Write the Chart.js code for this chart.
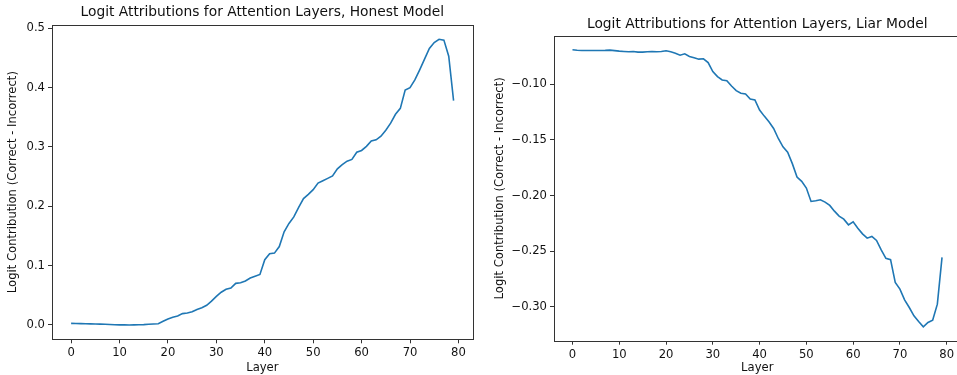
<!DOCTYPE html>
<html>
<head>
<meta charset="UTF-8" />
<title>Logit Attributions for Attention Layers</title>
<script src="https://cdn.jsdelivr.net/npm/chart.js"></script>
<style>
html, body { margin:0; padding:0; background:#fff; overflow:hidden; width:957px; height:375px; }
.box { position:absolute; top:0; height:375px; }
#leftBox { left:0; width:478px; }
#rightBox { left:478px; width:500px; }
</style>
</head>
<body>
<div class="box" id="leftBox"><canvas id="honest"></canvas></div>
<div class="box" id="rightBox"><canvas id="liar"></canvas></div>

<script>
// layers 0..79
const layers = Array.from({ length: 80 }, (_, i) => i);

const honestValues = [
  0.0025, 0.0024, 0.0022, 0.0020, 0.0018, 0.0016, 0.0013, 0.0010, 0.0006, 0.0003,
  0.0001, 0.0000, -0.0002, 0.0000, 0.0002, 0.0004, 0.0010, 0.0015, 0.0020, 0.0060,
  0.0100, 0.0130, 0.0150, 0.0190, 0.0200, 0.0220, 0.0260, 0.0290, 0.0330, 0.0400,
  0.0480, 0.0550, 0.0600, 0.0620, 0.0700, 0.0710, 0.0740, 0.0790, 0.0820, 0.0850,
  0.1100, 0.1200, 0.1210, 0.1320, 0.1570, 0.1710, 0.1820, 0.1980, 0.2130, 0.2200,
  0.2280, 0.2390, 0.2430, 0.2470, 0.2510, 0.2630, 0.2700, 0.2760, 0.2790, 0.2910,
  0.2940, 0.3010, 0.3100, 0.3120, 0.3180, 0.3280, 0.3400, 0.3550, 0.3650, 0.3960,
  0.4000, 0.4130, 0.4300, 0.4480, 0.4660, 0.4760, 0.4815, 0.4800, 0.4530, 0.3780
];

const liarValues = [
  -0.0690, -0.0694, -0.0696, -0.0696, -0.0696, -0.0696, -0.0696, -0.0695, -0.0693, -0.0697,
  -0.0702, -0.0705, -0.0708, -0.0705, -0.0711, -0.0711, -0.0708, -0.0705, -0.0708, -0.0705,
  -0.0699, -0.0708, -0.0720, -0.0738, -0.0726, -0.0750, -0.0762, -0.0774, -0.0771, -0.0805,
  -0.0886, -0.0931, -0.0961, -0.0967, -0.1015, -0.1057, -0.1081, -0.1087, -0.1132, -0.1141,
  -0.1232, -0.1286, -0.1337, -0.1397, -0.1487, -0.1562, -0.1611, -0.1713, -0.1833, -0.1872,
  -0.1932, -0.2053, -0.2047, -0.2038, -0.2059, -0.2089, -0.2140, -0.2185, -0.2212, -0.2263,
  -0.2236, -0.2293, -0.2344, -0.2383, -0.2368, -0.2404, -0.2489, -0.2564, -0.2576, -0.2780,
  -0.2841, -0.2937, -0.3006, -0.3081, -0.3132, -0.3180, -0.3141, -0.3120, -0.2976, -0.2555
];

const xTicks = [0, 10, 20, 30, 40, 50, 60, 70, 80];
const honestYTicks = [0.0, 0.1, 0.2, 0.3, 0.4, 0.5];
const liarYTicks = [-0.10, -0.15, -0.20, -0.25, -0.30];

const FONT = "'DejaVu Sans', sans-serif";
const INK = '#111';
const EDGE = '#333';
const TICK_SIZE = 11.6;
const TITLE_SIZE = 13.8;

// matplotlib style: full frame around the axes
const frame = {
  id: 'frame',
  afterDraw(chart) {
    const { ctx, chartArea: a } = chart;
    ctx.save();
    ctx.strokeStyle = EDGE;
    ctx.lineWidth = 1;
    ctx.strokeRect(Math.round(a.left) + 0.5, Math.round(a.top) + 0.5,
      Math.round(a.right - a.left), Math.round(a.bottom - a.top));
    ctx.restore();
  }
};

function margins(values) {
  const lo = Math.min(...values), hi = Math.max(...values);
  const pad = (hi - lo) * 0.05;
  return { min: lo - pad, max: hi + pad };
}

function makeChart(id, cfg) {
  const y = margins(cfg.values);
  return new Chart(document.getElementById(id), {
    type: 'line',
    data: {
      datasets: [{
        data: cfg.values.map((v, i) => ({ x: layers[i], y: v })),
        borderColor: '#1f77b4',
        borderWidth: 1.6,
        pointRadius: 0,
        tension: 0,
        fill: false
      }]
    },
    plugins: [frame],
    options: {
      responsive: true,
      maintainAspectRatio: false,
      animation: false,
      layout: { padding: { top: 0, left: 0, right: cfg.rightPad, bottom: 0 } },
      plugins: {
        legend: { display: false },
        tooltip: { enabled: false },
        title: {
          display: true,
          text: cfg.title,
          fullSize: false,
          color: INK,
          font: { family: FONT, size: TITLE_SIZE, weight: 'normal' },
          padding: cfg.titlePad
        }
      },
      scales: {
        x: {
          type: 'linear',
          min: -3.95,
          max: 82.95,
          afterBuildTicks: s => { s.ticks = xTicks.map(v => ({ value: v })); },
          afterFit: s => { s.height = cfg.xHeight; },
          grid: { drawOnChartArea: false, drawTicks: true, tickLength: 4, color: EDGE },
          border: { display: false },
          ticks: { color: INK, font: { family: FONT, size: TICK_SIZE }, padding: 3, maxRotation: 0 },
          title: { display: true, text: 'Layer', color: INK, font: { family: FONT, size: TICK_SIZE }, padding: { top: 0, bottom: 0 } }
        },
        y: {
          type: 'linear',
          min: y.min,
          max: y.max,
          afterBuildTicks: s => { s.ticks = cfg.yTicks.map(v => ({ value: v })); },
          afterFit: s => { s.width = cfg.yWidth; },
          grid: { drawOnChartArea: false, drawTicks: true, tickLength: 4, color: EDGE },
          border: { display: false },
          ticks: {
            color: INK,
            font: { family: FONT, size: TICK_SIZE },
            padding: 3,
            callback: v => v.toFixed(cfg.decimals).replace('-', '\u2212')
          },
          title: {
            display: true,
            text: 'Logit Contribution (Correct - Incorrect)',
            color: INK,
            font: { family: FONT, size: TICK_SIZE },
            padding: { top: cfg.yTitlePad, bottom: 0 }
          }
        }
      }
    }
  });
}

makeChart('honest', {
  values: honestValues,
  yTicks: honestYTicks,
  decimals: 1,
  title: 'Logit Attributions for Attention Layers, Honest Model',
  titlePad: { top: 4.2, bottom: 4.2 },
  yWidth: 52,
  xHeight: 35.7,
  rightPad: 5.3,
  yTitlePad: 6
});

makeChart('liar', {
  values: liarValues,
  yTicks: liarYTicks,
  decimals: 2,
  title: 'Logit Attributions for Attention Layers, Liar Model',
  titlePad: { top: 16.2, bottom: 3.2 },
  yWidth: 76,
  xHeight: 34.3,
  rightPad: 17.5,
  yTitlePad: 15
});
</script>
</body>
</html>
